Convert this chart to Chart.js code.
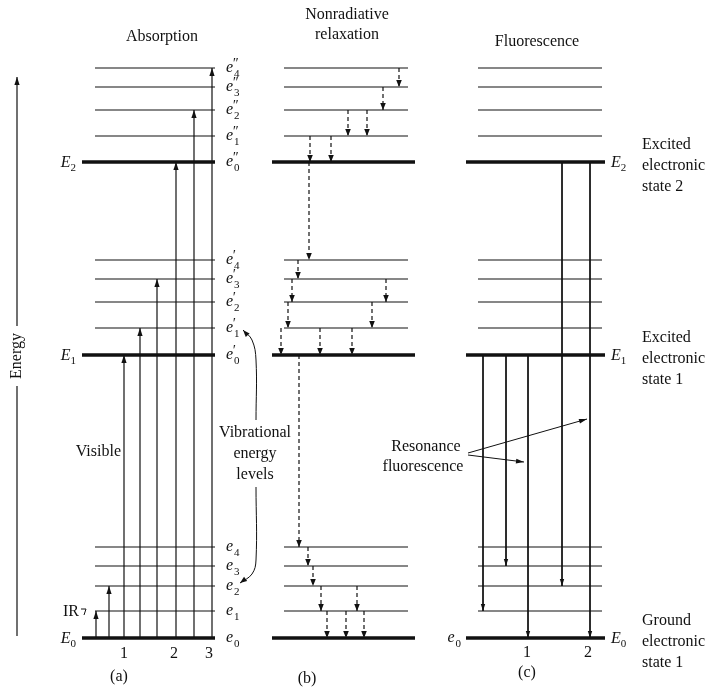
<!DOCTYPE html>
<html>
<head>
<meta charset="UTF-8">
<title>Energy levels</title>
<style>
  body { margin: 0; background: #fff; }
</style>
</head>
<body>
<canvas id="diagram" width="711" height="689"></canvas>

<script src="https://cdn.jsdelivr.net/npm/chart.js@4.4.0/dist/chart.umd.min.js"></script>
<script>
// vibrational levels e0..e4 of each electronic state (energy, arbitrary units)
const groundLevels = [51, 78, 103, 123, 142];
const excited1Levels = [334, 361, 387, 410, 429];
const excited2Levels = [527, 553, 579, 602, 621];
const states = [groundLevels, excited1Levels, excited2Levels];

// transitions as [fromState, fromVib, toState, toVib]
const absorptionSteps = [[0,0,0,1],[0,0,0,2],[0,0,1,0],[0,0,1,1],[0,0,1,3],[0,0,2,0],[0,0,2,2],[0,0,2,4]];
const relaxationSteps = [
  [2,4,2,3],[2,3,2,2],[2,2,2,1],[2,2,2,1],[2,1,2,0],[2,1,2,0],[2,0,1,4],
  [1,4,1,3],[1,3,1,2],[1,3,1,2],[1,2,1,1],[1,2,1,1],[1,1,1,0],[1,1,1,0],[1,1,1,0],[1,0,0,4],
  [0,4,0,3],[0,3,0,2],[0,2,0,1],[0,2,0,1],[0,1,0,0],[0,1,0,0],[0,1,0,0]
];
const fluorescenceSteps = [[2,0,0,2],[2,0,0,0],[1,0,0,1],[1,0,0,3],[1,0,0,0]];

// text
const panelTitles = ['Absorption', 'Nonradiative relaxation', 'Fluorescence'];
const panelTags = ['(a)', '(b)', '(c)'];
const stateNames = [['Ground', 'electronic', 'state 1'], ['Excited', 'electronic', 'state 1'], ['Excited', 'electronic', 'state 2']];
const absorptionTicks = ['1', '2', '3'];
const fluorescenceTicks = ['1', '2'];
const primes = ['', '\u2032', '\u2033'];

// ---- layout (horizontal places, in the same units as the x scale) ----
const panels = [
  { thin: [95, 215], thick: [82, 215] },
  { thin: [284, 408], thick: [272, 415] },
  { thin: [478, 602], thick: [466, 605] }
];
const absorptionX = [96, 109, 124, 140, 157, 176, 194, 212];
const relaxationX = [399, 383, 348, 367, 310, 331, 309, 298, 292, 386, 288, 372, 281, 320, 352, 299, 308, 313, 321, 357, 327, 346, 364];
const fluorescenceX = [562, 590, 483, 506, 528];

const ink = '#111';
const serif = '"Liberation Serif", "DejaVu Serif", serif';

function seg(points, opts) {
  return Object.assign({
    data: points, showLine: true, borderColor: ink, backgroundColor: ink,
    borderWidth: 1.2, pointRadius: 0, pointHoverRadius: 0, tension: 0
  }, opts || {});
}

const datasets = [];

// level lines
panels.forEach(function (p) {
  states.forEach(function (lv) {
    lv.forEach(function (e, v) {
      const span = v === 0 ? p.thick : p.thin;
      datasets.push(seg([{x: span[0], y: e}, {x: span[1], y: e}], {borderWidth: v === 0 ? 3.6 : 1.1}));
    });
  });
});

function addSteps(steps, xs, opts) {
  steps.forEach(function (s, i) {
    datasets.push(seg([{x: xs[i], y: states[s[0]][s[1]]}, {x: xs[i], y: states[s[2]][s[3]]}], opts));
  });
}
addSteps(absorptionSteps, absorptionX, {head: [8, 2.6]});
addSteps(relaxationSteps, relaxationX, {head: [7, 2.8], borderDash: [4, 3]});
addSteps(fluorescenceSteps, fluorescenceX, {head: [7, 2.2], borderWidth: 1});

// energy axis, broken round its label
datasets.push(seg([{x: 17, y: 53}, {x: 17, y: 303}]));
datasets.push(seg([{x: 17, y: 363}, {x: 17, y: 612}], {head: [8, 2.6]}));

// pointers for "Vibrational energy levels"
datasets.push(seg([{x: 256, y: 269}, {x: 256, y: 329}, {x: 252, y: 349}, {x: 243, y: 359}], {tension: 0.4, head: [7, 2.6], borderWidth: 1}));
datasets.push(seg([{x: 256, y: 202}, {x: 256, y: 129}, {x: 252, y: 115}, {x: 240, y: 106}], {tension: 0.4, head: [7, 2.6], borderWidth: 1}));

// pointers for "Resonance fluorescence"
datasets.push(seg([{x: 468, y: 236}, {x: 587, y: 270}], {head: [8, 2.4], borderWidth: 1}));
datasets.push(seg([{x: 468, y: 234}, {x: 524, y: 227}], {head: [8, 2.4], borderWidth: 1}));

// small IR bracket
datasets.push(seg([{x: 81, y: 80}, {x: 86, y: 80}, {x: 84, y: 74}], {borderWidth: 1}));

// draws a filled head at the last point of any dataset flagged with `head`
const arrowHeads = {
  id: 'arrowHeads',
  afterDatasetsDraw(chart) {
    const ctx = chart.ctx;
    chart.data.datasets.forEach(function (ds, i) {
      if (!ds.head) return;
      const pts = chart.getDatasetMeta(i).data;
      const tip = pts[pts.length - 1];
      let px = pts[pts.length - 2].x, py = pts[pts.length - 2].y;
      if (tip.cp1x !== undefined && (Math.abs(tip.cp1x - tip.x) + Math.abs(tip.cp1y - tip.y)) > 0.5) {
        px = tip.cp1x; py = tip.cp1y;
      }
      const ang = Math.atan2(tip.y - py, tip.x - px);
      ctx.save();
      ctx.translate(tip.x, tip.y);
      ctx.rotate(ang);
      ctx.beginPath();
      ctx.moveTo(0, 0);
      ctx.lineTo(-ds.head[0], -ds.head[1]);
      ctx.lineTo(-ds.head[0], ds.head[1]);
      ctx.closePath();
      ctx.fillStyle = ink;
      ctx.fill();
      ctx.restore();
    });
  }
};

// italic symbol with a raised prime and a lowered index, e.g. e''_4
function symbol(ctx, x, y, base, prime, sub, align) {
  ctx.textAlign = 'left';
  ctx.textBaseline = 'alphabetic';
  ctx.font = 'italic 16px ' + serif;
  const bw = ctx.measureText(base).width;
  ctx.font = '11px ' + serif;
  const sw = Math.max(ctx.measureText(sub).width, prime ? 6 : 0);
  const x0 = align === 'right' ? x - bw - sw - 1 : x;
  const cap = base === 'E';
  ctx.font = 'italic 16px ' + serif;
  ctx.fillText(base, x0, y + (cap ? 5 : 4));
  if (prime) {
    ctx.font = 'italic 14px ' + serif;
    ctx.fillText(prime, x0 + bw - 1, y);
  }
  ctx.font = '11px ' + serif;
  ctx.fillText(sub, x0 + bw + (cap ? 0 : 1), y + 9);
}

const labels = {
  id: 'labels',
  afterDraw(chart) {
    const ctx = chart.ctx;
    const X = function (v) { return chart.scales.x.getPixelForValue(v); };
    const Y = function (v) { return chart.scales.y.getPixelForValue(v); };
    ctx.save();
    ctx.fillStyle = ink;

    function text(t, x, y, align) {
      ctx.font = '16px ' + serif;
      ctx.textAlign = align || 'center';
      ctx.textBaseline = 'middle';
      ctx.fillText(t, X(x), Y(y));
    }

    // titles
    text(panelTitles[0], 162, 652);
    const two = panelTitles[1].split(' ');
    text(two[0], 347, 674);
    text(two[1], 347, 654);
    text(panelTitles[2], 537, 647);
    text(panelTags[0], 119, 12);
    text(panelTags[1], 307, 10);
    text(panelTags[2], 527, 16);

    // level symbols
    states.forEach(function (lv, s) {
      lv.forEach(function (e, v) {
        symbol(ctx, X(226), Y(e), 'e', primes[s], String(v), 'left');
      });
      symbol(ctx, X(77), Y(lv[0]), 'E', '', String(s), 'right');
      symbol(ctx, X(611), Y(lv[0]), 'E', '', String(s), 'left');
      stateNames[s].forEach(function (t, k) {
        text(t, 642, lv[0] - 4 + (1 - k) * 21, 'left');
      });
    });
    symbol(ctx, X(461), Y(groundLevels[0]), 'e', '', '0', 'right');

    // transition numbers under the ground level
    [124, 174, 209].forEach(function (x, k) { text(absorptionTicks[k], x, 35); });
    [527, 588].forEach(function (x, k) { text(fluorescenceTicks[k], x, 36); });

    text('Visible', 121, 237, 'right');
    text('IR', 79, 77, 'right');
    text('Vibrational', 255, 256);
    text('energy', 255, 235);
    text('levels', 255, 214);
    text('Resonance', 426, 242);
    text('fluorescence', 423, 222);

    // rotated axis name
    ctx.translate(X(17), Y(333));
    ctx.rotate(-Math.PI / 2);
    ctx.font = '16px ' + serif;
    ctx.textAlign = 'center';
    ctx.textBaseline = 'middle';
    ctx.fillText('Energy', 0, 0);
    ctx.restore();
  }
};

new Chart(document.getElementById('diagram'), {
  type: 'scatter',
  data: { datasets: datasets },
  options: {
    responsive: false,
    animation: false,
    layout: { padding: 0 },
    scales: {
      x: { type: 'linear', min: 0, max: 711, display: false },
      y: { type: 'linear', min: 0, max: 689, display: false }
    },
    plugins: { legend: { display: false }, tooltip: { enabled: false } },
    events: []
  },
  plugins: [arrowHeads, labels]
});
</script>
</body>
</html>
